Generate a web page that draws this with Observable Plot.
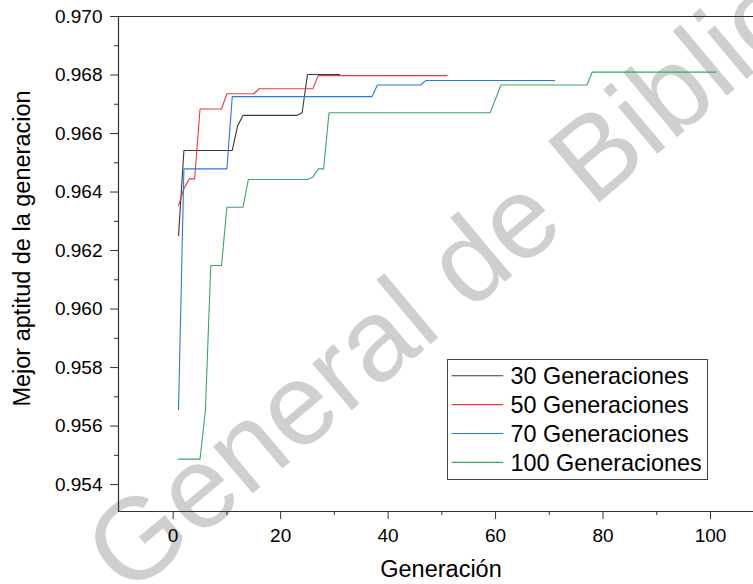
<!DOCTYPE html>
<html>
<head>
<meta charset="utf-8">
<script src="https://cdn.jsdelivr.net/npm/d3@7"></script>
<script src="https://cdn.jsdelivr.net/npm/@observablehq/plot@0.6"></script>
<style>
  html, body { margin: 0; padding: 0; background: #fff; }
  #chart { width: 753px; height: 584px; }
</style>
</head>
<body>
<div id="chart"></div>
<script>
// ---- data (breakpoints of each step curve) ----
const seriesNames = ["30 Generaciones", "50 Generaciones", "70 Generaciones", "100 Generaciones"];
const seriesColors = ["#3a3a3a", "#ee3a3a", "#2a78e4", "#38a963"];

const gens30 = [1, 2, 11, 12, 13, 23, 24, 25, 31];
const vals30 = [0.96251, 0.96542, 0.96542, 0.96627, 0.96662, 0.96662, 0.96671, 0.96802, 0.96802];

const gens50 = [1, 2, 3, 4, 5, 9, 10, 15, 16, 26, 27, 51];
const vals50 = [0.96354, 0.96411, 0.96445, 0.96445, 0.96684, 0.96684, 0.96736, 0.96736, 0.96753, 0.96753, 0.96798, 0.96798];

const gens70 = [1, 2, 10, 11, 37, 38, 46, 47, 71];
const vals70 = [0.95656, 0.96479, 0.96479, 0.96726, 0.96726, 0.96766, 0.96766, 0.96781, 0.96781];

const gens100 = [1, 5, 6, 7, 9, 10, 13, 14, 25, 26, 27, 28, 29, 59, 61, 77, 78, 101];
const vals100 = [0.95487, 0.95487, 0.95653, 0.96149, 0.96149, 0.96348, 0.96348, 0.96443, 0.96443, 0.96451, 0.96479, 0.96479, 0.96671, 0.96671, 0.96766, 0.96766, 0.96810, 0.96810];

const xMajorTicks = [0, 20, 40, 60, 80, 100];
const xMinorTicks = [10, 30, 50, 70, 90];
const yMajorTicks = [0.954, 0.956, 0.958, 0.960, 0.962, 0.964, 0.966, 0.968, 0.970];
const yMinorTicks = [0.955, 0.957, 0.959, 0.961, 0.963, 0.965, 0.967, 0.969];

const xLabel = "Generación";
const yLabel = "Mejor aptitud de la generacion";
const watermark = "General de Biblioteca";

const xDomain = [-10.17, 108];
const yDomain = [0.95308, 0.970];

// ---- table ----
const gensList = [gens30, gens50, gens70, gens100];
const valsList = [vals30, vals50, vals70, vals100];
const data = [];
seriesNames.forEach((s, i) => {
  gensList[i].forEach((g, j) => data.push({series: s, gen: g, val: valsList[i][j]}));
});

const FONT = "'Liberation Sans', Arial, Helvetica, sans-serif";
const AX = "#333333";

const chart = Plot.plot({
  width: 753,
  height: 584,
  marginLeft: 118,
  marginRight: 0,
  marginTop: 16,
  marginBottom: 73,
  style: {fontFamily: FONT, fontSize: "19px", background: "#fff", color: "#000", overflow: "visible"},
  x: {domain: xDomain, label: null},
  y: {domain: yDomain, label: null},
  color: {domain: seriesNames, range: seriesColors},
  marks: [
    Plot.axisX({ticks: xMajorTicks, tickSize: 8, tickPadding: 9, tickFormat: d3.format("d"), label: null, stroke: AX, fill: "#000"}),
    Plot.axisX({ticks: xMinorTicks, tickSize: 4, tickFormat: () => "", label: null, stroke: AX}),
    Plot.axisY({ticks: yMajorTicks, tickSize: 8, tickPadding: 8, tickFormat: d3.format(".3f"), label: null, stroke: AX, fill: "#000"}),
    Plot.axisY({ticks: yMinorTicks, tickSize: 4, tickFormat: () => "", label: null, stroke: AX}),
    Plot.ruleY([yDomain[0]], {stroke: AX, strokeWidth: 1.2}),
    Plot.ruleY([yDomain[1]], {stroke: AX, strokeWidth: 1.2}),
    Plot.ruleX([xDomain[0]], {stroke: AX, strokeWidth: 1.2}),
    Plot.line(data, {x: "gen", y: "val", z: "series", stroke: "series", strokeWidth: 1.1})
  ]
});

document.getElementById("chart").appendChild(chart);

const svg = d3.select(chart);

// watermark (gray diagonal text)
svg.insert("text", ":first-child")
  .attr("transform", "translate(128,598) rotate(-40)")
  .attr("text-anchor", "start")
  .attr("font-family", FONT)
  .attr("font-size", 116)
  .attr("fill", "#cfcfcf")
  .text(watermark);

// axis titles
svg.append("text")
  .attr("x", 441)
  .attr("y", 577)
  .attr("text-anchor", "middle")
  .attr("font-family", FONT)
  .attr("font-size", 23.5)
  .attr("fill", "#000")
  .text(xLabel);

svg.append("text")
  .attr("transform", "translate(30,248.5) rotate(-90)")
  .attr("text-anchor", "middle")
  .attr("font-family", FONT)
  .attr("font-size", 23.5)
  .attr("fill", "#000")
  .text(yLabel);

// legend
const lg = svg.append("g").attr("text-anchor", "start");
lg.append("rect")
  .attr("x", 447.5).attr("y", 359.5)
  .attr("width", 260).attr("height", 120)
  .attr("fill", "#fff").attr("stroke", "#444").attr("stroke-width", 1);
seriesNames.forEach((s, i) => {
  const yy = 375.7 + i * 28.9;
  lg.append("line")
    .attr("x1", 451.7).attr("x2", 503.3)
    .attr("y1", yy).attr("y2", yy)
    .attr("stroke", seriesColors[i]).attr("stroke-width", 1.1);
  lg.append("text")
    .attr("x", 510.5).attr("y", yy)
    .attr("dy", "0.36em")
    .attr("text-anchor", "start")
    .attr("font-family", FONT)
    .attr("font-size", 23.4)
    .attr("fill", "#000")
    .text(s);
});
</script>
</body>
</html>
